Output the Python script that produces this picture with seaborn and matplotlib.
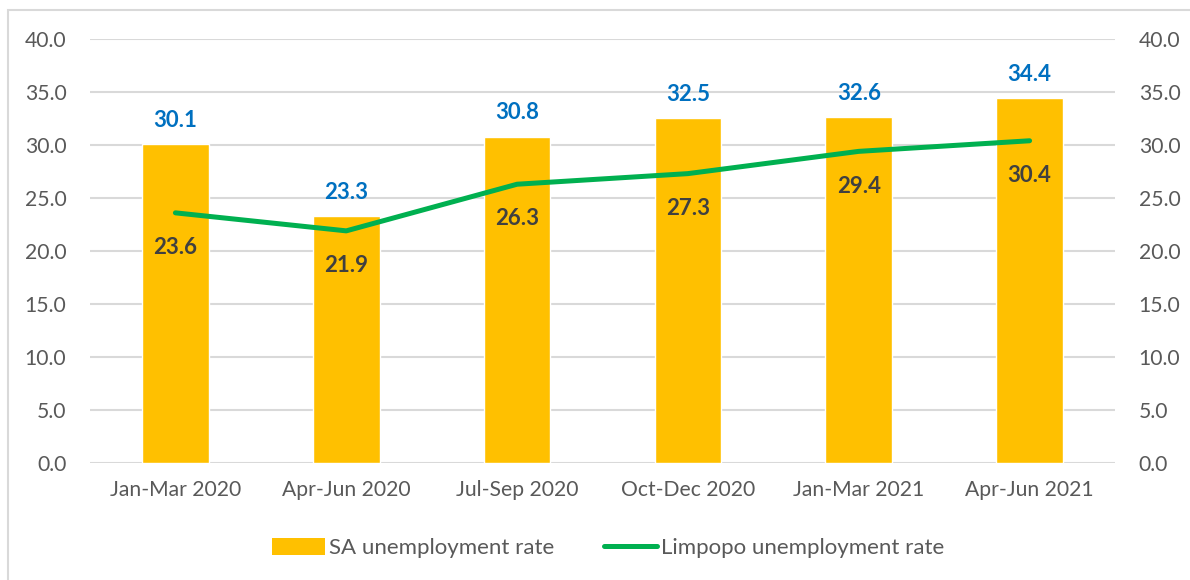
import matplotlib
matplotlib.use("Agg")
import matplotlib.pyplot as plt
import seaborn as sns
import pandas as pd
from matplotlib.patches import Rectangle
from matplotlib.lines import Line2D
from matplotlib.patches import Patch

quarters = ["Jan-Mar 2020", "Apr-Jun 2020", "Jul-Sep 2020",
            "Oct-Dec 2020", "Jan-Mar 2021", "Apr-Jun 2021"]
sa_rate = [30.1, 23.3, 30.8, 32.5, 32.6, 34.4]
limpopo_rate = [23.6, 21.9, 26.3, 27.3, 29.4, 30.4]

df = pd.DataFrame({"quarter": quarters, "sa": sa_rate, "limpopo": limpopo_rate})

sns.set_theme(style="white")
plt.rcParams["font.family"] = ["Lato", "DejaVu Sans"]

BAR = "#FFC000"
LINE = "#00B050"
GRID = "#D9D9D9"
TXT = "#595959"
FS = 15.2

fig = plt.figure(figsize=(11.9, 5.8), dpi=100)
ax = fig.add_axes([90 / 1190, 117 / 580, 1025 / 1190, 424 / 580])

sns.barplot(data=df, x="quarter", y="sa", color=BAR, saturation=1,
            width=0.39, ax=ax, zorder=2)
ax.set_ylim(0, 40)
ax.set_yticks(range(0, 41, 5))
ax.set_yticklabels([f"{v:.1f}" for v in range(0, 41, 5)])
ax.yaxis.grid(True, color=GRID, linewidth=1.5, zorder=0)
ax.set_axisbelow(True)
for s in ax.spines.values():
    s.set_visible(False)
ax.set_xlabel("")
ax.set_ylabel("")
ax.tick_params(axis="both", length=0, labelsize=FS, labelcolor=TXT)
ax.tick_params(axis="y", pad=17)
ax.tick_params(axis="x", pad=12)

for i, v in enumerate(sa_rate):
    ax.annotate(f"{v:.1f}", (i, v), xytext=(0, 17), textcoords="offset points",
                ha="center", va="center", color="#0070C0",
                fontsize=16, fontweight="bold")

ax2 = ax.twinx()
sns.lineplot(x=list(range(len(quarters))), y=limpopo_rate, color=LINE,
             linewidth=3.6, ax=ax2, zorder=3)
ax2.set_ylim(0, 40)
ax2.set_yticks(range(0, 41, 5))
ax2.set_yticklabels([f"{v:.1f}" for v in range(0, 41, 5)])
for s in ax2.spines.values():
    s.set_visible(False)
ax2.set_ylabel("")
ax2.tick_params(axis="y", length=0, labelsize=FS, labelcolor=TXT, pad=17)
ax2.grid(False)

for i, v in enumerate(limpopo_rate):
    ax2.annotate(f"{v:.1f}", (i, v), xytext=(0, -25), textcoords="offset points",
                 ha="center", va="center", color="#404040",
                 fontsize=16, fontweight="bold")

ax.set_xlim(-0.5, len(quarters) - 0.5)

handles = [Patch(facecolor=BAR, edgecolor="none"),
           Line2D([0], [0], color=LINE, linewidth=3.6, solid_capstyle="round")]
fig.legend(handles, ["SA unemployment rate", "Limpopo unemployment rate"],
           loc="center", bbox_to_anchor=(0.511, 32 / 580), ncol=2, frameon=False,
           fontsize=16, labelcolor=TXT, handlelength=2.4, handleheight=0.8,
           columnspacing=2.2, handletextpad=0.2)

fig.patches.append(Rectangle((8 / 1190, -0.05), 1.1, (570 / 580) + 0.05,
                             transform=fig.transFigure, fill=False,
                             edgecolor=GRID, linewidth=1.5))

fig.savefig("out.png", dpi=100, facecolor="white")
